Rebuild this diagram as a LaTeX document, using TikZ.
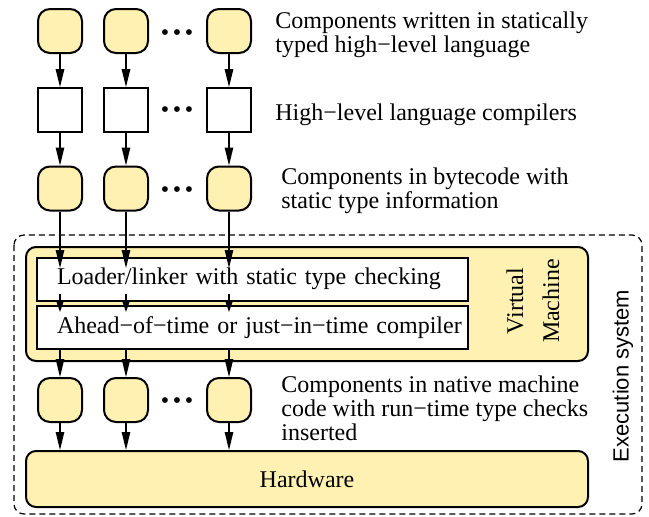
\documentclass[tikz,border=0pt]{standalone}
\usepackage{fontspec}
\setmainfont{Liberation Serif}
\newfontfamily\helv{Liberation Sans}
\usepackage{xcolor}
\usetikzlibrary{arrows.meta}
\definecolor{compyellow}{RGB}{255,241,178}
\tikzstyle{comp}=[draw, line width=1pt, fill=compyellow, rounded corners=6pt, minimum width=22pt, minimum height=22pt, inner sep=0pt]
\tikzstyle{hlc}=[draw, line width=0.9pt, fill=white, minimum width=22pt, minimum height=22pt, inner sep=0pt]
\tikzstyle{layer}=[draw, line width=1pt, fill=compyellow, rounded corners=5pt, minimum width=281pt, inner sep=0pt]
\tikzstyle{stage}=[draw, line width=1pt, fill=white, text width=215.5pt, inner xsep=0pt, inner ysep=0pt, minimum height=21.5pt, align=left, execute at begin node={\hspace*{10pt}}]
\tikzstyle{arr}=[-{Triangle[length=9pt,width=4.2pt]}, line width=0.75pt]
\tikzstyle{sarr}=[-{Triangle[length=6pt,width=4pt]}, line width=0.75pt]
\tikzstyle{captxt}=[anchor=base west, align=left, inner sep=0pt]
\newcommand{\threedots}{•\hspace{1.8pt}•\hspace{1.8pt}•}

\begin{document}
\begin{tikzpicture}[x=0.5pt,y=-0.5pt, font=\fontsize{12}{12}\selectfont]
\useasboundingbox (0,0) rectangle (649,516);
% execution system
\draw[dash pattern=on 3pt off 2pt, line width=0.6pt, rounded corners=5pt] (14,235) rectangle (642,514);
\node[rotate=90, font=\helv\fontsize{11}{13}\selectfont] (exec) at (623,376) {Execution system};
% virtual machine
\node[layer, minimum height=57pt] (vm) at (307,304) {};
\node[stage] (ld) at (252.5,279) {Loader/linker with static type checking};
\node[stage] (cp) at (252.5,327.5) {Ahead−of−time or just−in−time compiler};
\node[rotate=90, align=center, font=\fontsize{12}{18}\selectfont] (vmtext) at (533,301) {Virtual\\Machine};
% hardware
\node[layer, minimum height=28pt] (hw) at (307,479) {Hardware};
% components
\foreach \i/\x in {1/60,2/126,3/229} {
  \node[comp] (a\i) at (\x,31) {};
  \node[hlc] (b\i) at (\x,110) {};
  \node[comp] (c\i) at (\x,188.5) {};
  \node[comp] (d\i) at (\x,400) {};
  \coordinate (e\i) at (\x,268);
  \coordinate (f\i) at (\x,294);
  \coordinate (g\i) at (\x,312);
  \draw[arr] (a\i) -- (b\i);
  \draw[arr] (b\i) -- (c\i);
  \draw[arr] (c\i) -- (e\i);
  \draw[sarr] (f\i) -- (g\i);
  \draw[arr] (cp.south -| d\i) -- (d\i);
  \draw[arr] (d\i) -- (d\i |- hw.north);
}
\node (dots1) at (177,35) {\threedots};
\node (dots2) at (177,112) {\threedots};
\node (dots3) at (177,192) {\threedots};
\node (dots4) at (177,403) {\threedots};
% captions
\node[captxt] (cap1) at (275,52) {Components written in statically\\typed high−level language};
\node[captxt] (cap2) at (275,120) {High−level language compilers};
\node[captxt] (cap3) at (281,208) {Components in bytecode with\\static type information};
\node[captxt] (cap4) at (281,440) {Components in native machine\\code with run−time type checks\\inserted};
\end{tikzpicture}
\end{document}
